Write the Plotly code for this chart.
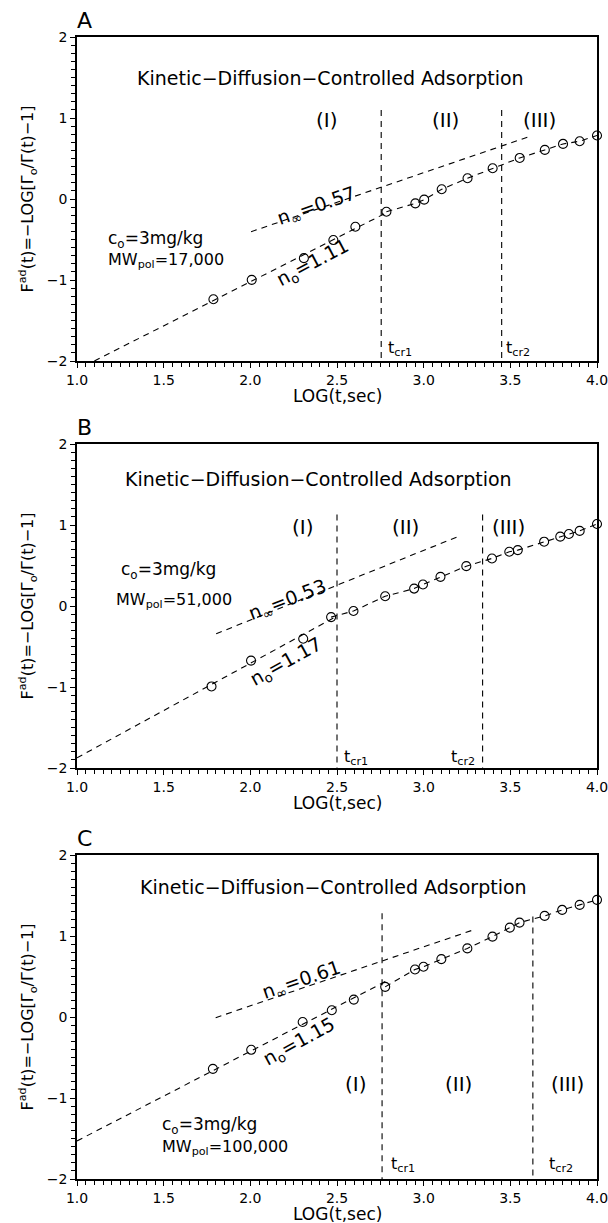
import plotly.graph_objects as go

# ---------------- data ----------------
panel_letters = ["A", "B", "C"]

a_x = [1.787, 2.008, 2.309, 2.479, 2.606, 2.785, 2.952, 3.003, 3.104, 3.253, 3.398, 3.554, 3.699, 3.804, 3.900, 4.000]
a_y = [-1.237, -0.998, -0.730, -0.507, -0.342, -0.157, -0.054, -0.008, 0.120, 0.256, 0.379, 0.507, 0.606, 0.680, 0.713, 0.784]

b_x = [1.776, 2.004, 2.305, 2.466, 2.595, 2.778, 2.945, 2.996, 3.097, 3.246, 3.394, 3.494, 3.543, 3.695, 3.788, 3.838, 3.900, 4.000]
b_y = [-0.993, -0.674, -0.405, -0.137, -0.062, 0.120, 0.215, 0.265, 0.360, 0.492, 0.587, 0.670, 0.690, 0.794, 0.856, 0.889, 0.927, 1.013]

c_x = [1.784, 2.005, 2.302, 2.470, 2.597, 2.778, 2.950, 2.999, 3.102, 3.252, 3.397, 3.497, 3.553, 3.698, 3.799, 3.900, 4.000]
c_y = [-0.640, -0.405, -0.062, 0.083, 0.215, 0.372, 0.587, 0.620, 0.715, 0.847, 0.992, 1.103, 1.165, 1.248, 1.322, 1.384, 1.446]

# fitted initial-slope lines (n_o) and late-slope lines (n_inf)
a_n0_x, a_n0_y = [1.10, 2.785], [-2.0, -0.17]
b_n0_x, b_n0_y = [1.00, 2.495], [-1.874, -0.13]
c_n0_x, c_n0_y = [1.00, 2.79], [-1.53, 0.45]

a_ninf_x, a_ninf_y = [2.004, 3.61], [-0.404, 0.771]
b_ninf_x, b_ninf_y = [1.803, 3.197], [-0.343, 0.856]
c_ninf_x, c_ninf_y = [1.80, 3.285], [-0.008, 1.074]

# index of the first point of the dashed connecting curve
curve_start = [5, 3, 5]

# critical times (LOG t) and top of their dashed markers
a_tcr, a_tcr_top = [2.755, 3.45], [1.10, 1.10]
b_tcr, b_tcr_top = [2.50, 3.34], [1.13, 1.13]
c_tcr, c_tcr_top = [2.76, 3.63], [1.28, 1.24]

n0_labels = ["n<sub>o</sub>=1.11", "n<sub>o</sub>=1.17", "n<sub>o</sub>=1.15"]
ninf_labels = ["n<sub>∞</sub>=0.57", "n<sub>∞</sub>=0.53", "n<sub>∞</sub>=0.61"]
mw_labels = ["MW<sub>pol</sub>=17,000", "MW<sub>pol</sub>=51,000", "MW<sub>pol</sub>=100,000"]
conc_label = "c<sub>o</sub>=3mg/kg"
title_text = "Kinetic−Diffusion−Controlled Adsorption"
x_title = "LOG(t,sec)"
y_title = "F<sup>ad</sup>(t)=−LOG[Γ<sub>o</sub>/Γ(t)−1]"
region_labels = ["(I)", "(II)", "(III)"]
x_ticks = [1.0, 1.5, 2.0, 2.5, 3.0, 3.5, 4.0]
x_ticktext = ["1.0", "1.5", "2.0", "2.5", "3.0", "3.5", "4.0"]
y_ticks = [-2, -1, 0, 1, 2]

# ---------------- label placement (data coords) ----------------
panels = [
    dict(x=a_x, y=a_y, n0=(a_n0_x, a_n0_y), ninf=(a_ninf_x, a_ninf_y), tcr=a_tcr, tcr_top=a_tcr_top,
         title=(2.46, 1.50), regions=([2.445, 3.124, 3.666], 0.97),
         conc=(1.167, -0.495), mw=(1.167, -0.763),
         ninf_lab=(2.383, -0.09, -19), n0_lab=(2.36, -0.80, -28),
         tcr_lab=[(2.785, -1.84, "left"), (3.462, -1.84, "left")]),
    dict(x=b_x, y=b_y, n0=(b_n0_x, b_n0_y), ninf=(b_ninf_x, b_ninf_y), tcr=b_tcr, tcr_top=b_tcr_top,
         title=(2.394, 1.568), regions=([2.305, 2.897, 3.487], 0.98),
         conc=(1.245, 0.443), mw=(1.212, 0.07),
         ninf_lab=(2.216, 0.07, -21), n0_lab=(2.205, -0.695, -29),
         tcr_lab=[(2.53, -1.87, "left"), (3.31, -1.87, "right")]),
    dict(x=c_x, y=c_y, n0=(c_n0_x, c_n0_y), ninf=(c_ninf_x, c_ninf_y), tcr=c_tcr, tcr_top=c_tcr_top,
         title=(2.48, 1.61), regions=([2.61, 3.20, 3.83], -0.83),
         conc=(1.476, -1.343), mw=(1.476, -1.61),
         ninf_lab=(2.298, 0.45, -19), n0_lab=(2.28, -0.31, -29),
         tcr_lab=[(2.80, -1.82, "left"), (3.71, -1.82, "left")]),
]

W, H = 608, 1223
ML, MR, MT, MB = 77, 11, 37, 44
plot_h = H - MT - MB
tops_px = [37, 444, 855]
panel_h = 324

FONT = "DejaVu Sans, Verdana, sans-serif"
DASH = "6px,5px"

fig = go.Figure()
annotations = []
layout_axes = {}

for i, p in enumerate(panels):
    n = "" if i == 0 else str(i + 1)
    xa, ya = "x" + n, "y" + n
    top = tops_px[i]
    bot = top + panel_h
    dom = [(H - MB - bot) / plot_h, (H - MB - top) / plot_h]

    line_style = dict(color="black", width=1.1, dash=DASH)
    # n_o straight line
    fig.add_trace(go.Scatter(x=p["n0"][0], y=p["n0"][1], mode="lines", line=line_style,
                             xaxis=xa, yaxis=ya, showlegend=False, hoverinfo="skip"))
    # n_inf straight line
    fig.add_trace(go.Scatter(x=p["ninf"][0], y=p["ninf"][1], mode="lines", line=line_style,
                             xaxis=xa, yaxis=ya, showlegend=False, hoverinfo="skip"))
    # dashed curve through late points
    k = curve_start[i]
    fig.add_trace(go.Scatter(x=p["x"][k:], y=p["y"][k:], mode="lines", line=line_style,
                             xaxis=xa, yaxis=ya, showlegend=False, hoverinfo="skip"))
    # critical time markers
    for xv, yt in zip(p["tcr"], p["tcr_top"]):
        fig.add_trace(go.Scatter(x=[xv, xv], y=[yt, -2], mode="lines",
                                 line=dict(color="black", width=1.1, dash=DASH),
                                 xaxis=xa, yaxis=ya, showlegend=False, hoverinfo="skip"))
    # data points
    fig.add_trace(go.Scatter(x=p["x"], y=p["y"], mode="markers",
                             marker=dict(symbol="circle-open", size=9, color="black",
                                         line=dict(width=1.1, color="black")),
                             xaxis=xa, yaxis=ya, showlegend=False, cliponaxis=False))

    layout_axes["xaxis" + n] = dict(
        domain=[0, 1], anchor=ya, range=[1, 4], tickvals=x_ticks, ticktext=x_ticktext,
        ticks="outside", ticklen=5, tickwidth=1, tickcolor="black",
        minor=dict(ticks="outside", ticklen=4, dtick=0.05, tick0=1, tickcolor="black", tickwidth=1),
        showline=True, linecolor="black", linewidth=1.5, mirror=True,
        showgrid=False, zeroline=False, ticklabeloverflow="allow",
        tickfont=dict(size=14, color="black", family=FONT),
        automargin=False,
    )
    layout_axes["yaxis" + n] = dict(
        domain=dom, anchor=xa, range=[-2, 2], tickvals=y_ticks,
        ticks="outside", ticklen=5, tickwidth=1, tickcolor="black",
        minor=dict(ticks="outside", ticklen=4, dtick=0.1, tick0=0, tickcolor="black", tickwidth=1),
        showline=True, linecolor="black", linewidth=1.5, mirror=True,
        showgrid=False, zeroline=False,
        tickfont=dict(size=14, color="black", family=FONT),
        title=dict(text=y_title, font=dict(size=16, color="black", family=FONT), standoff=9),
        automargin=False,
    )

    def ann(x, y, text, size=17, xanchor="center", angle=0, yanchor="middle"):
        annotations.append(dict(x=x, y=y, xref=xa, yref=ya, text=text, showarrow=False,
                                xanchor=xanchor, yanchor=yanchor, textangle=angle,
                                font=dict(size=size, color="black", family=FONT)))

    ann(p["title"][0], p["title"][1], title_text, size=19)
    for rx, rl in zip(p["regions"][0], region_labels):
        ann(rx, p["regions"][1], rl, size=20)
    ann(p["conc"][0], p["conc"][1], conc_label, size=17, xanchor="left")
    ann(p["mw"][0], p["mw"][1], mw_labels[i], size=16, xanchor="left")
    ann(p["ninf_lab"][0], p["ninf_lab"][1], ninf_labels[i], size=19, angle=p["ninf_lab"][2])
    ann(p["n0_lab"][0], p["n0_lab"][1], n0_labels[i], size=19, angle=p["n0_lab"][2])
    for j, (tx, ty, anc) in enumerate(p["tcr_lab"]):
        ann(tx, ty, "t<sub>cr%d</sub>" % (j + 1), size=16, xanchor=anc)

    # x-axis title (placed below the tick labels)
    annotations.append(dict(x=0.5, y=0, xref=xa + " domain", yref=ya + " domain",
                            text=x_title, showarrow=False, xanchor="center", yanchor="middle",
                            yshift=-35, font=dict(size=17, color="black", family=FONT)))

    # panel letter
    annotations.append(dict(x=0, y=1, xref=xa + " domain", yref=ya + " domain",
                            text=panel_letters[i], showarrow=False, xanchor="left", yanchor="bottom",
                            xshift=-2, yshift=2, font=dict(size=22, color="black", family=FONT)))

fig.update_layout(
    width=W, height=H,
    margin=dict(l=ML, r=MR, t=MT, b=MB, autoexpand=False),
    paper_bgcolor="white", plot_bgcolor="white",
    font=dict(family=FONT, color="black"),
    annotations=annotations,
    **layout_axes,
)

fig.write_html("out.html", config={"displayModeBar": False},
               post_script="document.body.style.margin='0';document.body.style.overflow='hidden';")
